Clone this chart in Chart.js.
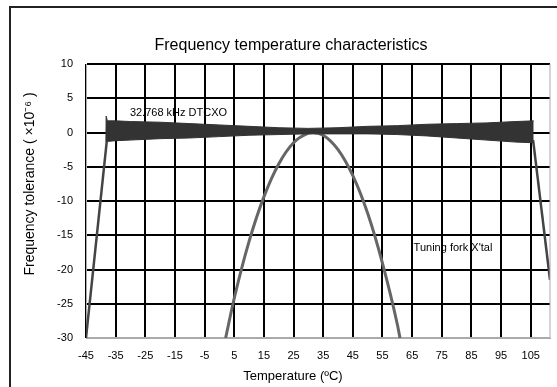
<!DOCTYPE html>
<html>
<head>
<meta charset="utf-8">
<script src="https://cdn.jsdelivr.net/npm/chart.js@4/dist/chart.umd.min.js"></script>
<style>
  html, body { margin: 0; padding: 0; background: #fff; }
  #wrap { width: 557px; height: 387px; }
</style>
</head>
<body>
<div id="wrap"><canvas id="freqChart" width="557" height="387"></canvas></div>
<script>
// Data
const xTicks = [-45, -35, -25, -15, -5, 5, 15, 25, 35, 45, 55, 65, 75, 85, 95, 105];

// 32.768 kHz DTCXO band (upper / lower edge)
const bandTemp  = [-38.3, -38.2, -37.8, -35, -30, -20, -10, 0, 10, 20, 30, 40, 50, 60, 70, 80, 90, 100, 106];
const bandUpper = [-1.3, 2.4, 1.7, 1.7, 1.6, 1.5, 1.3, 1.1, 0.9, 0.7, 0.6, 0.7, 0.9, 1.0, 1.2, 1.3, 1.4, 1.6, 1.7];
const bandLower = [-1.3, -1.3, -1.3, -1.2, -1.1, -0.9, -0.8, -0.6, -0.4, -0.3, -0.2, -0.2, -0.2, -0.3, -0.5, -0.8, -1.1, -1.4, -1.5];

// DTCXO drop-off outside the compensated range
const leftTemp  = [-45, -38.0];
const leftVal   = [-30, -1.3];
const rightTemp = [105.8, 111.5];
const rightVal  = [-1.1, -21.5];

// Tuning fork crystal curve
const forkTemp = [2.1, 5, 10, 15, 20, 25, 30, 31.5, 35, 40, 45, 50, 55, 60, 60.9];
const forkVal  = [-30, -24.2, -15.9, -9.4, -4.6, -1.5, -0.1, 0, -0.4, -2.5, -6.3, -11.8, -19.1, -28.0, -30];

const labels = [
    { text: '32.768 kHz DTCXO', x: -30.2, y: 2.85 },
    { text: "Tuning fork X'tal", x: 65.5, y: -16.9 }
];

const FONT = "'Liberation Sans', Arial, sans-serif";

function pts(xs, ys) {
    return xs.map((x, i) => ({ x: x, y: ys[i] }));
}

// frame, titles and curve labels
const decorPlugin = {
    id: 'decor',
    beforeDraw(chart) {
        const ctx = chart.ctx;
        ctx.save();
        ctx.fillStyle = '#fff';
        ctx.fillRect(0, 0, chart.width, chart.height);
        ctx.strokeStyle = '#222';
        ctx.lineWidth = 2;
        ctx.beginPath();
        ctx.moveTo(10, 387);
        ctx.lineTo(10, 7);
        ctx.lineTo(557, 7);
        ctx.stroke();
        ctx.restore();
    },
    afterDatasetsDraw(chart) {
        const ctx = chart.ctx;
        const area = chart.chartArea;
        const xs = chart.scales.x;
        const ys = chart.scales.y;
        ctx.save();

        // right edge of the plot
        ctx.strokeStyle = '#aaa';
        ctx.lineWidth = 1;
        ctx.beginPath();
        ctx.moveTo(area.right, area.top);
        ctx.lineTo(area.right, area.bottom);
        ctx.stroke();

        ctx.fillStyle = '#000';
        ctx.textBaseline = 'middle';
        ctx.textAlign = 'left';
        ctx.font = '11px ' + FONT;
        labels.forEach(l => {
            ctx.fillText(l.text, xs.getPixelForValue(l.x), ys.getPixelForValue(l.y));
        });

        ctx.textAlign = 'center';
        ctx.font = '16px ' + FONT;
        ctx.fillText('Frequency temperature characteristics', 291, 46);

        ctx.font = '13px ' + FONT;
        ctx.fillText('Temperature (ºC)', 293, 376);

        ctx.font = '14px ' + FONT;
        ctx.translate(30, 184);
        ctx.rotate(-Math.PI / 2);
        ctx.fillText('Frequency tolerance ( ×10⁻⁶ )', 0, 0);
        ctx.restore();
    }
};

const bandColor = '#333';

new Chart(document.getElementById('freqChart').getContext('2d'), {
    type: 'line',
    data: {
        datasets: [
            {
                label: 'DTCXO upper',
                data: pts(bandTemp, bandUpper),
                borderColor: bandColor,
                backgroundColor: bandColor,
                borderWidth: 1,
                pointRadius: 0,
                fill: '+1'
            },
            {
                label: 'DTCXO lower',
                data: pts(bandTemp, bandLower),
                borderColor: bandColor,
                borderWidth: 1,
                pointRadius: 0,
                fill: false
            },
            {
                label: 'DTCXO left',
                data: pts(leftTemp, leftVal),
                borderColor: '#444',
                borderWidth: 2.5,
                pointRadius: 0,
                fill: false
            },
            {
                label: 'DTCXO right',
                data: pts(rightTemp, rightVal),
                borderColor: '#444',
                borderWidth: 2.5,
                pointRadius: 0,
                fill: false
            },
            {
                label: "Tuning fork X'tal",
                data: pts(forkTemp, forkVal),
                borderColor: '#666',
                borderWidth: 3,
                pointRadius: 0,
                cubicInterpolationMode: 'monotone',
                fill: false
            }
        ]
    },
    options: {
        responsive: false,
        animation: false,
        layout: { padding: { left: 10, right: 7, top: 64, bottom: 0 } },
        scales: {
            x: {
                type: 'linear',
                min: -45,
                max: 111.5,
                afterBuildTicks(scale) {
                    scale.ticks = xTicks.map(v => ({ value: v }));
                },
                afterFit(scale) { scale.height = 49; },
                grid: { color: '#000', lineWidth: 2, drawTicks: false },
                border: { color: '#aaa', width: 1 },
                ticks: {
                    color: '#000',
                    padding: 11,
                    maxRotation: 0,
                    autoSkip: false,
                    font: { family: FONT, size: 11 }
                }
            },
            y: {
                min: -30,
                max: 10,
                afterFit(scale) { scale.width = 76; },
                grid: {
                    color: ctx => (ctx.tick && ctx.tick.value === -30 ? '#aaa' : '#000'),
                    lineWidth: 2,
                    drawTicks: false
                },
                border: { color: '#aaa', width: 1 },
                ticks: {
                    stepSize: 5,
                    color: '#000',
                    padding: 13,
                    font: { family: FONT, size: 11 }
                }
            }
        },
        plugins: {
            legend: { display: false },
            title: { display: false },
            tooltip: { enabled: false }
        }
    },
    plugins: [decorPlugin]
});
</script>
</body>
</html>
